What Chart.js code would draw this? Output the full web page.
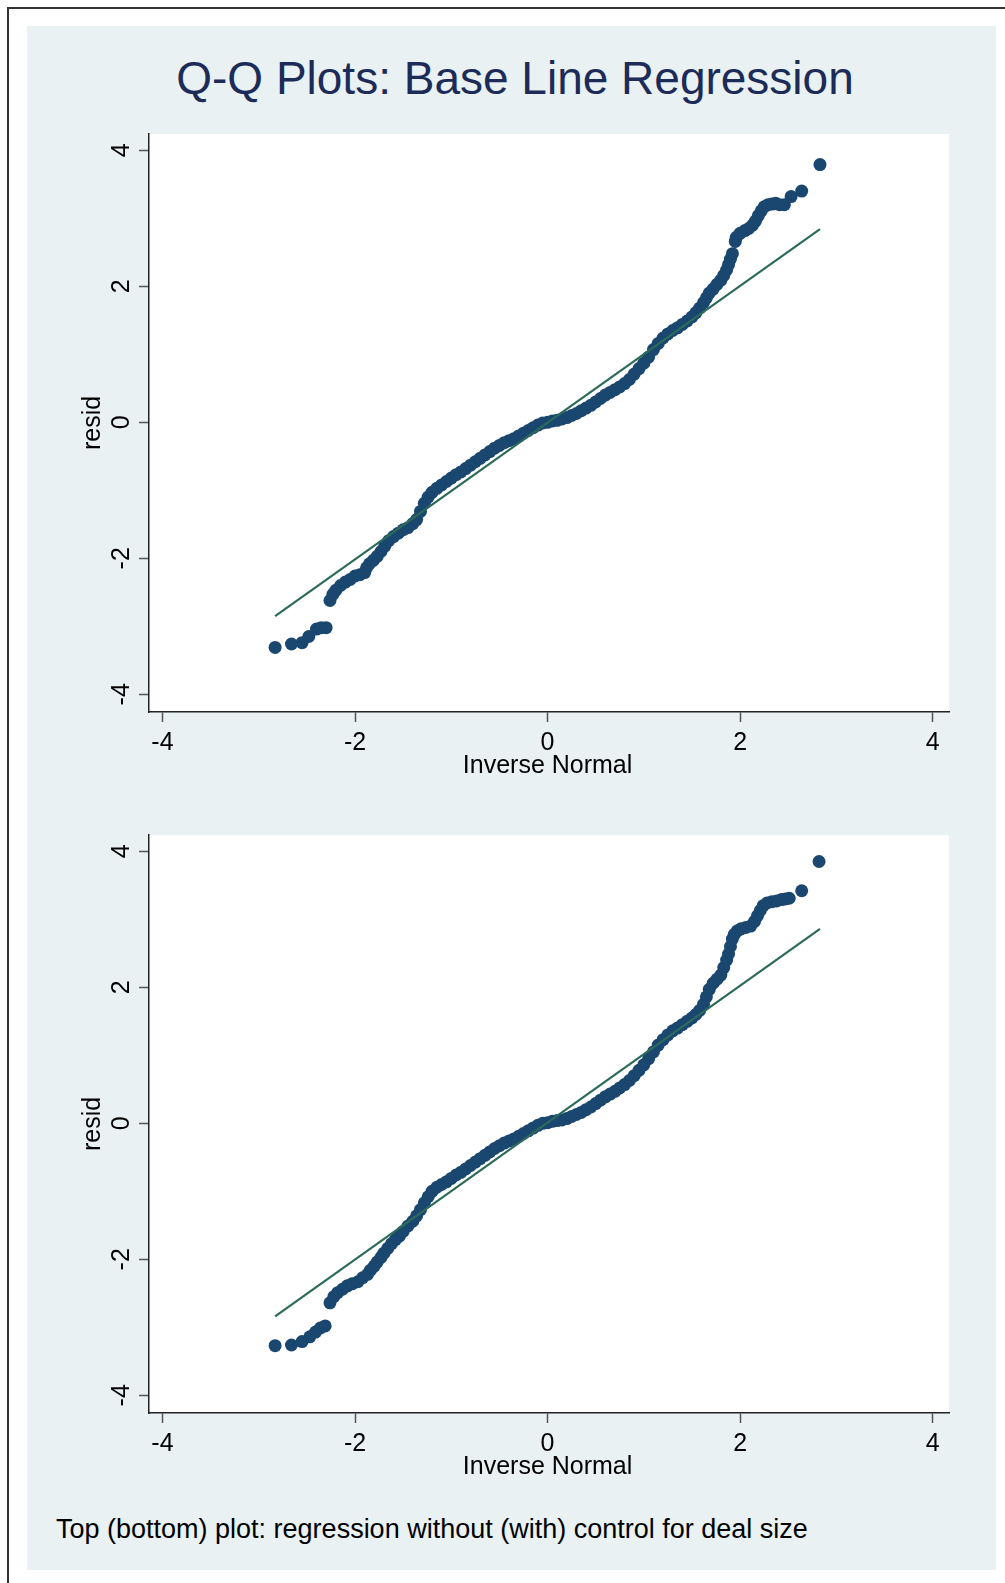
<!DOCTYPE html>
<html>
<head>
<meta charset="utf-8">
<script src="https://cdn.jsdelivr.net/npm/chart.js@4.4.1/dist/chart.umd.min.js"></script>
<style>
  html, body { margin: 0; padding: 0; background: #fff; overflow: hidden; }
  body { width: 1005px; height: 1583px; position: relative; font-family: "Liberation Sans", Arial, sans-serif; }
  #frame { position: absolute; left: 7px; top: 7px; width: 1100px; height: 1700px; border-top: 2px solid #333; border-left: 2px solid #333; }
  #panel { position: absolute; left: 27px; top: 26px; width: 969px; height: 1544px; background: #e9f1f3; }
  #title { position: absolute; left: 0; top: 52px; width: 1030px; height: 52px; line-height: 52px; text-align: center; font-size: 46px; color: #1c2b58; }
  #note { position: absolute; left: 56px; top: 1514px; height: 30px; line-height: 30px; font-size: 27px; color: #000; white-space: nowrap; }
  canvas { position: absolute; left: 27px; }
  #top-chart { top: 124px; }
  #bottom-chart { top: 825px; }
</style>
</head>
<body>
<div id="frame"></div>
<div id="panel"></div>
<div id="title">Q-Q Plots: Base Line Regression</div>
<canvas id="top-chart" width="969" height="676"></canvas>
<canvas id="bottom-chart" width="969" height="676"></canvas>
<div id="note">Top (bottom) plot: regression without (with) control for deal size</div>

<script>
// Tick values
const xTicks = [-4, -2, 0, 2, 4];
const yTicks = [-4, -2, 0, 2, 4];

// Top plot: inverse normal vs residual
const topX = [-2.83, -2.66, -2.55, -2.48, -2.40, -2.35, -2.30,
  -2.26, -2.23, -2.20, -2.15, -2.10, -2.05, -2.00, -1.95, -1.90, -1.88,
  -1.85, -1.81, -1.77, -1.73, -1.69, -1.65, -1.60, -1.55, -1.50, -1.45,
  -1.40, -1.36, -1.32, -1.28, -1.24, -1.20, -1.15, -1.10, -1.05, -1.00,
  -0.95, -0.90, -0.85, -0.80, -0.75, -0.70, -0.65, -0.60, -0.55, -0.50,
  -0.45, -0.40, -0.35, -0.30, -0.25, -0.20, -0.15, -0.10, -0.05, 0.00,
  0.05, 0.10, 0.15, 0.20, 0.25, 0.30, 0.35, 0.40, 0.45, 0.50,
  0.55, 0.60, 0.65, 0.70, 0.75, 0.80, 0.85, 0.90, 0.95, 1.00,
  1.05, 1.10, 1.15, 1.20, 1.25, 1.30, 1.35, 1.40, 1.45, 1.50,
  1.54, 1.58, 1.62, 1.65, 1.68, 1.72, 1.76, 1.80, 1.83, 1.86,
  1.88, 1.90, 1.92,
  1.95, 1.96, 2.00, 2.05, 2.09, 2.13, 2.16, 2.19, 2.22, 2.25,
  2.29, 2.33, 2.37, 2.41, 2.46, 2.53, 2.64, 2.83];
const topY = [-3.31, -3.26, -3.24, -3.15, -3.04, -3.02, -3.02,
  -2.62, -2.53, -2.47, -2.40, -2.35, -2.31, -2.26, -2.24, -2.21, -2.14,
  -2.08, -2.03, -1.97, -1.90, -1.82, -1.74, -1.68, -1.63, -1.58, -1.55,
  -1.49, -1.43, -1.31, -1.19, -1.10, -1.03, -0.97, -0.92, -0.87, -0.82,
  -0.77, -0.73, -0.68, -0.63, -0.58, -0.53, -0.48, -0.43, -0.38, -0.34,
  -0.30, -0.27, -0.24, -0.20, -0.16, -0.12, -0.08, -0.04, -0.01, 0.00,
  0.02, 0.03, 0.05, 0.07, 0.10, 0.13, 0.17, 0.21, 0.25, 0.30,
  0.35, 0.40, 0.44, 0.48, 0.52, 0.57, 0.63, 0.71, 0.79, 0.87,
  0.96, 1.07, 1.16, 1.24, 1.30, 1.35, 1.39, 1.44, 1.49, 1.55,
  1.61, 1.68, 1.76, 1.83, 1.90, 1.96, 2.03, 2.09, 2.16, 2.24,
  2.32, 2.40, 2.48,
  2.66, 2.72, 2.78, 2.82, 2.85, 2.90, 2.96, 3.04, 3.11, 3.17,
  3.20, 3.21, 3.22, 3.20, 3.20, 3.32, 3.40, 3.79];

// Bottom plot
const bottomX = [-2.83, -2.66, -2.55, -2.47, -2.41, -2.36, -2.31,
  -2.26, -2.22, -2.18, -2.13, -2.08, -2.03, -1.97, -1.92, -1.87, -1.84,
  -1.80, -1.77, -1.73, -1.70, -1.66, -1.62, -1.58, -1.54, -1.50, -1.45,
  -1.40, -1.36, -1.32, -1.28, -1.24, -1.20, -1.15, -1.10, -1.05, -1.00,
  -0.95, -0.90, -0.85, -0.80, -0.75, -0.70, -0.65, -0.60, -0.55, -0.50,
  -0.45, -0.40, -0.35, -0.30, -0.25, -0.20, -0.15, -0.10, -0.05, 0.00,
  0.05, 0.10, 0.15, 0.20, 0.25, 0.30, 0.35, 0.40, 0.45, 0.50,
  0.55, 0.60, 0.65, 0.70, 0.75, 0.80, 0.85, 0.90, 0.95, 1.00,
  1.05, 1.10, 1.15, 1.20, 1.25, 1.30, 1.35, 1.40, 1.45, 1.50,
  1.54, 1.58, 1.62, 1.65, 1.68, 1.72, 1.76, 1.80, 1.83, 1.86,
  1.88, 1.90, 1.92,
  1.94, 1.97, 2.01, 2.06, 2.11, 2.15, 2.18, 2.21, 2.24, 2.28,
  2.33, 2.38, 2.43, 2.47, 2.51, 2.64, 2.82];
const bottomY = [-3.27, -3.26, -3.21, -3.14, -3.07, -3.01, -2.98,
  -2.64, -2.55, -2.49, -2.44, -2.39, -2.36, -2.33, -2.27, -2.22, -2.16,
  -2.10, -2.04, -1.97, -1.91, -1.84, -1.77, -1.71, -1.66, -1.59, -1.51,
  -1.44, -1.36, -1.27, -1.17, -1.08, -1.00, -0.94, -0.90, -0.86, -0.81,
  -0.76, -0.72, -0.67, -0.62, -0.57, -0.52, -0.47, -0.42, -0.37, -0.33,
  -0.29, -0.26, -0.23, -0.19, -0.15, -0.11, -0.07, -0.03, 0.00, 0.01,
  0.03, 0.04, 0.05, 0.07, 0.10, 0.13, 0.16, 0.20, 0.24, 0.29,
  0.34, 0.39, 0.43, 0.47, 0.52, 0.57, 0.63, 0.70, 0.78, 0.86,
  0.95, 1.05, 1.15, 1.23, 1.30, 1.36, 1.40, 1.45, 1.50, 1.55,
  1.60, 1.66, 1.75, 1.86, 1.97, 2.06, 2.12, 2.18, 2.29, 2.40,
  2.49, 2.60, 2.71,
  2.78, 2.83, 2.86, 2.88, 2.90, 2.97, 3.05, 3.13, 3.20, 3.24,
  3.26, 3.27, 3.29, 3.30, 3.31, 3.42, 3.85];

// Reference (normal) lines
const topLineX = [-2.83, 2.83];
const topLineY = [-2.85, 2.84];
const bottomLineX = [-2.83, 2.83];
const bottomLineY = [-2.84, 2.86];

const FONT = '"Liberation Sans", Arial, sans-serif';

function toPoints(xs, ys) {
  return xs.map((x, i) => ({ x: x, y: ys[i] }));
}

// white plot region, rotated y labels and axis titles
const axisText = {
  id: 'axisText',
  beforeDraw(chart) {
    const { ctx, chartArea } = chart;
    ctx.save();
    ctx.fillStyle = '#ffffff';
    ctx.fillRect(chartArea.left, chartArea.top, chartArea.right - chartArea.left, chartArea.bottom - chartArea.top);
    ctx.restore();
  },
  afterDraw(chart) {
    const { ctx, chartArea, scales } = chart;
    ctx.save();
    ctx.fillStyle = '#000';
    ctx.font = '25px ' + FONT;
    ctx.textAlign = 'center';
    ctx.textBaseline = 'middle';
    yTicks.forEach(v => {
      const y = scales.y.getPixelForValue(v);
      ctx.save();
      ctx.translate(chartArea.left - 27, y);
      ctx.rotate(-Math.PI / 2);
      ctx.fillText(String(v), 0, 0);
      ctx.restore();
    });
    // y title
    ctx.save();
    ctx.translate(chartArea.left - 56, (chartArea.top + chartArea.bottom) / 2);
    ctx.rotate(-Math.PI / 2);
    ctx.fillText('resid', 0, 0);
    ctx.restore();
    // x title
    ctx.fillText('Inverse Normal', scales.x.getPixelForValue(0), chartArea.bottom + 54);
    ctx.restore();
  }
};

function makeChart(id, xs, ys, lx, ly) {
  const el = document.getElementById(id);
  return new Chart(el, {
    type: 'scatter',
    data: {
      datasets: [
        {
          label: 'fit',
          data: toPoints(lx, ly),
          showLine: true,
          borderColor: '#2c6b5a',
          borderWidth: 2.2,
          pointRadius: 0,
          order: 0
        },
        {
          label: 'resid',
          data: toPoints(xs, ys),
          backgroundColor: '#1a476f',
          borderWidth: 0,
          pointRadius: 6.5,
          order: 1
        }
      ]
    },
    options: {
      responsive: false,
      devicePixelRatio: 1,
      animation: false,
      layout: { padding: { top: 10, right: 47, left: 0, bottom: 0 } },
      plugins: {
        legend: { display: false },
        tooltip: { enabled: false }
      },
      scales: {
        x: {
          type: 'linear',
          min: -4.14,
          max: 4.17,
          afterBuildTicks: axis => { axis.ticks = xTicks.map(v => ({ value: v })); },
          afterFit: scale => { scale.height = 88; },
          ticks: { color: '#000', font: { size: 25, family: FONT }, padding: 6, callback: v => String(v) },
          grid: { drawOnChartArea: false, drawTicks: true, tickLength: 10, tickColor: '#555', tickWidth: 1.5 },
          border: { display: true, color: '#222', width: 1.5 }
        },
        y: {
          type: 'linear',
          min: -4.26,
          max: 4.24,
          afterBuildTicks: axis => { axis.ticks = yTicks.map(v => ({ value: v })); },
          afterFit: scale => { scale.width = 122; },
          ticks: { display: false },
          grid: { drawOnChartArea: false, drawTicks: true, tickLength: 10, tickColor: '#555', tickWidth: 1.5 },
          border: { display: true, color: '#222', width: 1.5 }
        }
      }
    },
    plugins: [axisText]
  });
}

makeChart('top-chart', topX, topY, topLineX, topLineY);
makeChart('bottom-chart', bottomX, bottomY, bottomLineX, bottomLineY);
</script>
</body>
</html>
